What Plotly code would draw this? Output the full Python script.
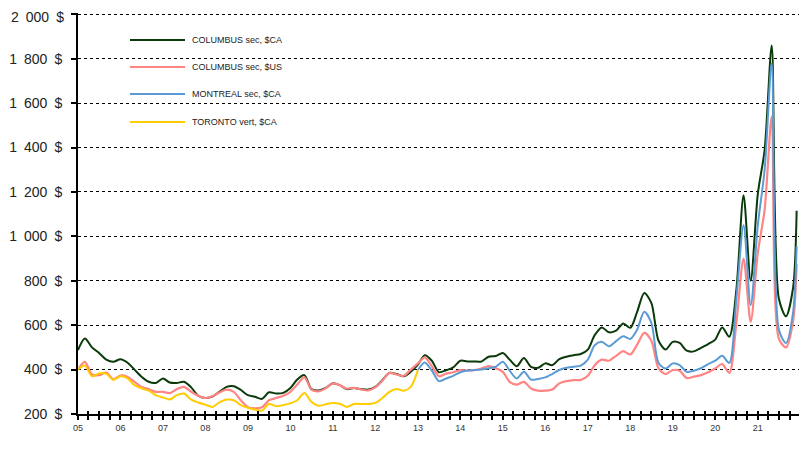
import pandas as pd
import plotly.graph_objects as go

# ---- data (bimonthly readings, Jan 2005 .. Nov 2021, plus Dec 2021) ----
dates = list(pd.date_range("2005-01-01", "2021-11-01", freq="2MS")) + [pd.Timestamp("2021-12-01")]

columbus_cad = [
    488, 540, 500, 475, 445, 435,
    447, 432, 400, 368, 345, 340,
    360, 342, 340, 345, 320, 282,
    272, 278, 300, 322, 325, 308,
    285, 278, 268, 298, 292, 295,
    317, 355, 375, 312, 306, 318,
    338, 330, 312, 317, 312, 310,
    322, 352, 385, 380, 370, 390,
    422, 465, 440, 388, 397, 410,
    440, 437, 437, 436, 458, 461,
    475, 445, 415, 452, 412, 408,
    428, 420, 447, 458, 465, 470,
    490, 555, 590, 568, 575, 608,
    588, 660, 745, 700, 530, 490,
    525, 520, 485, 482, 498, 515,
    535, 590, 548, 760, 1185, 800,
    1190, 1390, 1860, 720, 640, 770, 1115,
]

columbus_usd = [
    401, 435, 378, 375, 386, 356,
    373, 368, 345, 322, 312, 300,
    300, 294, 312, 322, 300, 282,
    272, 280, 297, 310, 300, 262,
    230, 225, 230, 262, 272, 282,
    300, 333, 365, 310, 302, 316,
    338, 330, 314, 318, 310, 306,
    320, 350, 385, 378, 372, 400,
    428, 455, 415, 370, 382, 388,
    398, 396, 398, 405, 416, 406,
    390, 345, 332, 345, 315, 305,
    305, 310, 338, 348, 353, 353,
    372, 420, 445, 440, 462, 483,
    468, 512, 565, 530, 405, 380,
    398, 395, 362, 368, 375, 388,
    405, 425, 385, 610, 900, 615,
    925, 1120, 1540, 540, 500, 620, 875,
]

montreal_cad = [  # from Jan 2013
    398, 432, 395, 348, 360, 372,
    388, 396, 398, 400, 406, 413,
    435, 395, 360, 390, 355, 358,
    365, 380, 398, 408, 413, 418,
    445, 510, 525, 505, 528, 550,
    538, 580, 660, 610, 430, 405,
    428, 420, 390, 395, 406, 425,
    440, 462, 430, 720, 1050, 690,
    1050, 1300, 1780, 580, 520, 660, 955,
]

toronto_cad = [  # Jan 2005 .. Jan 2013
    401, 418, 370, 383, 382, 354,
    370, 362, 330, 316, 305, 285,
    275, 265, 285, 292, 265, 252,
    242, 232, 252, 265, 262, 240,
    228, 220, 215, 245, 235, 240,
    248, 262, 295, 255, 237, 244,
    250, 246, 232, 245, 245, 245,
    250, 272, 300, 313, 305, 322,
    398,
]

series_names = ["COLUMBUS sec, $CA", "COLUMBUS sec, $US", "MONTREAL sec, $CA", "TORONTO vert, $CA"]
series_colors = ["#0A3A0A", "#FF8585", "#5B9BD5", "#FFCC00"]

y_ticks = list(range(200, 2001, 200))
y_ticktext = [f"{v:,}".replace(",", "\u2002") + "\u2002$" for v in y_ticks]
Y_MIN, Y_MAX = 200, 2006

# ---- geometry (page pixels; the page body has an 8px margin) ----
OFF = 8
PL, PR, PT, PB = 78, 800, 13, 414
W, H = 807 - OFF, 452 - OFF
L, T = PL - OFF, PT - OFF
R = W - (PR - OFF)
B = H - (PB - OFF)
FONT = "Liberation Sans, Arial, sans-serif"

fig = go.Figure()
n_mtl = len(montreal_cad)
n_tor = len(toronto_cad)
series_x = [dates, dates, dates[-n_mtl:], dates[:n_tor]]
series_y = [columbus_cad, columbus_usd, montreal_cad, toronto_cad]
widths = [2, 2.2, 2, 2]

for name, col, xs, ys, w in zip(series_names, series_colors, series_x, series_y, widths):
    fig.add_trace(go.Scatter(
        x=xs, y=ys, name=name, mode="lines",
        line=dict(color=col, width=w, shape="spline", smoothing=0.8),
        showlegend=False,
    ))

# dummy trace to activate overlay axis (inner half of crossing ticks)
fig.add_trace(go.Scatter(x=[dates[0]], y=[None], xaxis="x2", showlegend=False, hoverinfo="skip"))

x_range = ["2005-01-01", "2021-12-30"]

# top tick label is drawn as an annotation, nudged down slightly so it stays inside the page
axis_ticktext = y_ticktext[:-1] + [""]

fig.update_layout(
    width=W, height=H,
    margin=dict(l=L, r=R, t=T, b=B, autoexpand=False),
    paper_bgcolor="white", plot_bgcolor="white",
    font=dict(family=FONT, color="#222"),
    xaxis=dict(
        type="date", range=x_range,
        showline=True, linecolor="black", linewidth=2,
        ticks="outside", ticklen=4, tickwidth=1.5, tickcolor="black",
        tick0="2005-01-01", dtick="M12", tickformat="%y",
        tickfont=dict(size=9, color="#333", family=FONT),
        minor=dict(dtick="M3", ticks="outside", ticklen=4, tickwidth=1.5, tickcolor="black", showgrid=False),
        showgrid=False, zeroline=False,
    ),
    xaxis2=dict(
        type="date", range=x_range, overlaying="x", anchor="y", side="bottom",
        showline=False, showgrid=False, zeroline=False, showticklabels=False,
        ticks="inside", ticklen=3, tickwidth=1.5, tickcolor="black",
        tick0="2005-01-01", dtick="M3",
    ),
    yaxis=dict(
        range=[Y_MIN, Y_MAX],
        tickvals=y_ticks, ticktext=axis_ticktext,
        showline=True, linecolor="black", linewidth=2,
        ticks="outside", ticklen=5, tickwidth=1.5, tickcolor="black",
        tickfont=dict(size=14, color="#222", family=FONT),
        ticklabelstandoff=6,
        showgrid=True, gridcolor="black", gridwidth=1, griddash="dot",
        zeroline=False,
    ),
)

fig.add_annotation(xref="paper", yref="y", x=0, y=y_ticks[-1], text=y_ticktext[-1],
                   showarrow=False, xanchor="right", yanchor="middle",
                   xshift=-13, yshift=-3, borderpad=0,
                   font=dict(size=14, color="#222", family=FONT))

# ---- manual legend (inside plot, transparent), positions in page pixels ----
def fx(xp):
    return (xp - PL) / (PR - PL)
def fy(yp):
    return (PB - yp) / (PB - PT)

legend_rows = [40, 67, 94, 122]
for name, col, yp in zip(series_names, series_colors, legend_rows):
    fig.add_shape(type="line", xref="paper", yref="paper",
                  x0=fx(130), x1=fx(185), y0=fy(yp), y1=fy(yp),
                  line=dict(color=col, width=2))
    fig.add_annotation(xref="paper", yref="paper", x=fx(190), y=fy(yp),
                       text=name, showarrow=False, xanchor="left", yanchor="middle",
                       font=dict(size=9, color="#222", family=FONT))

fig.write_html("out.html")
